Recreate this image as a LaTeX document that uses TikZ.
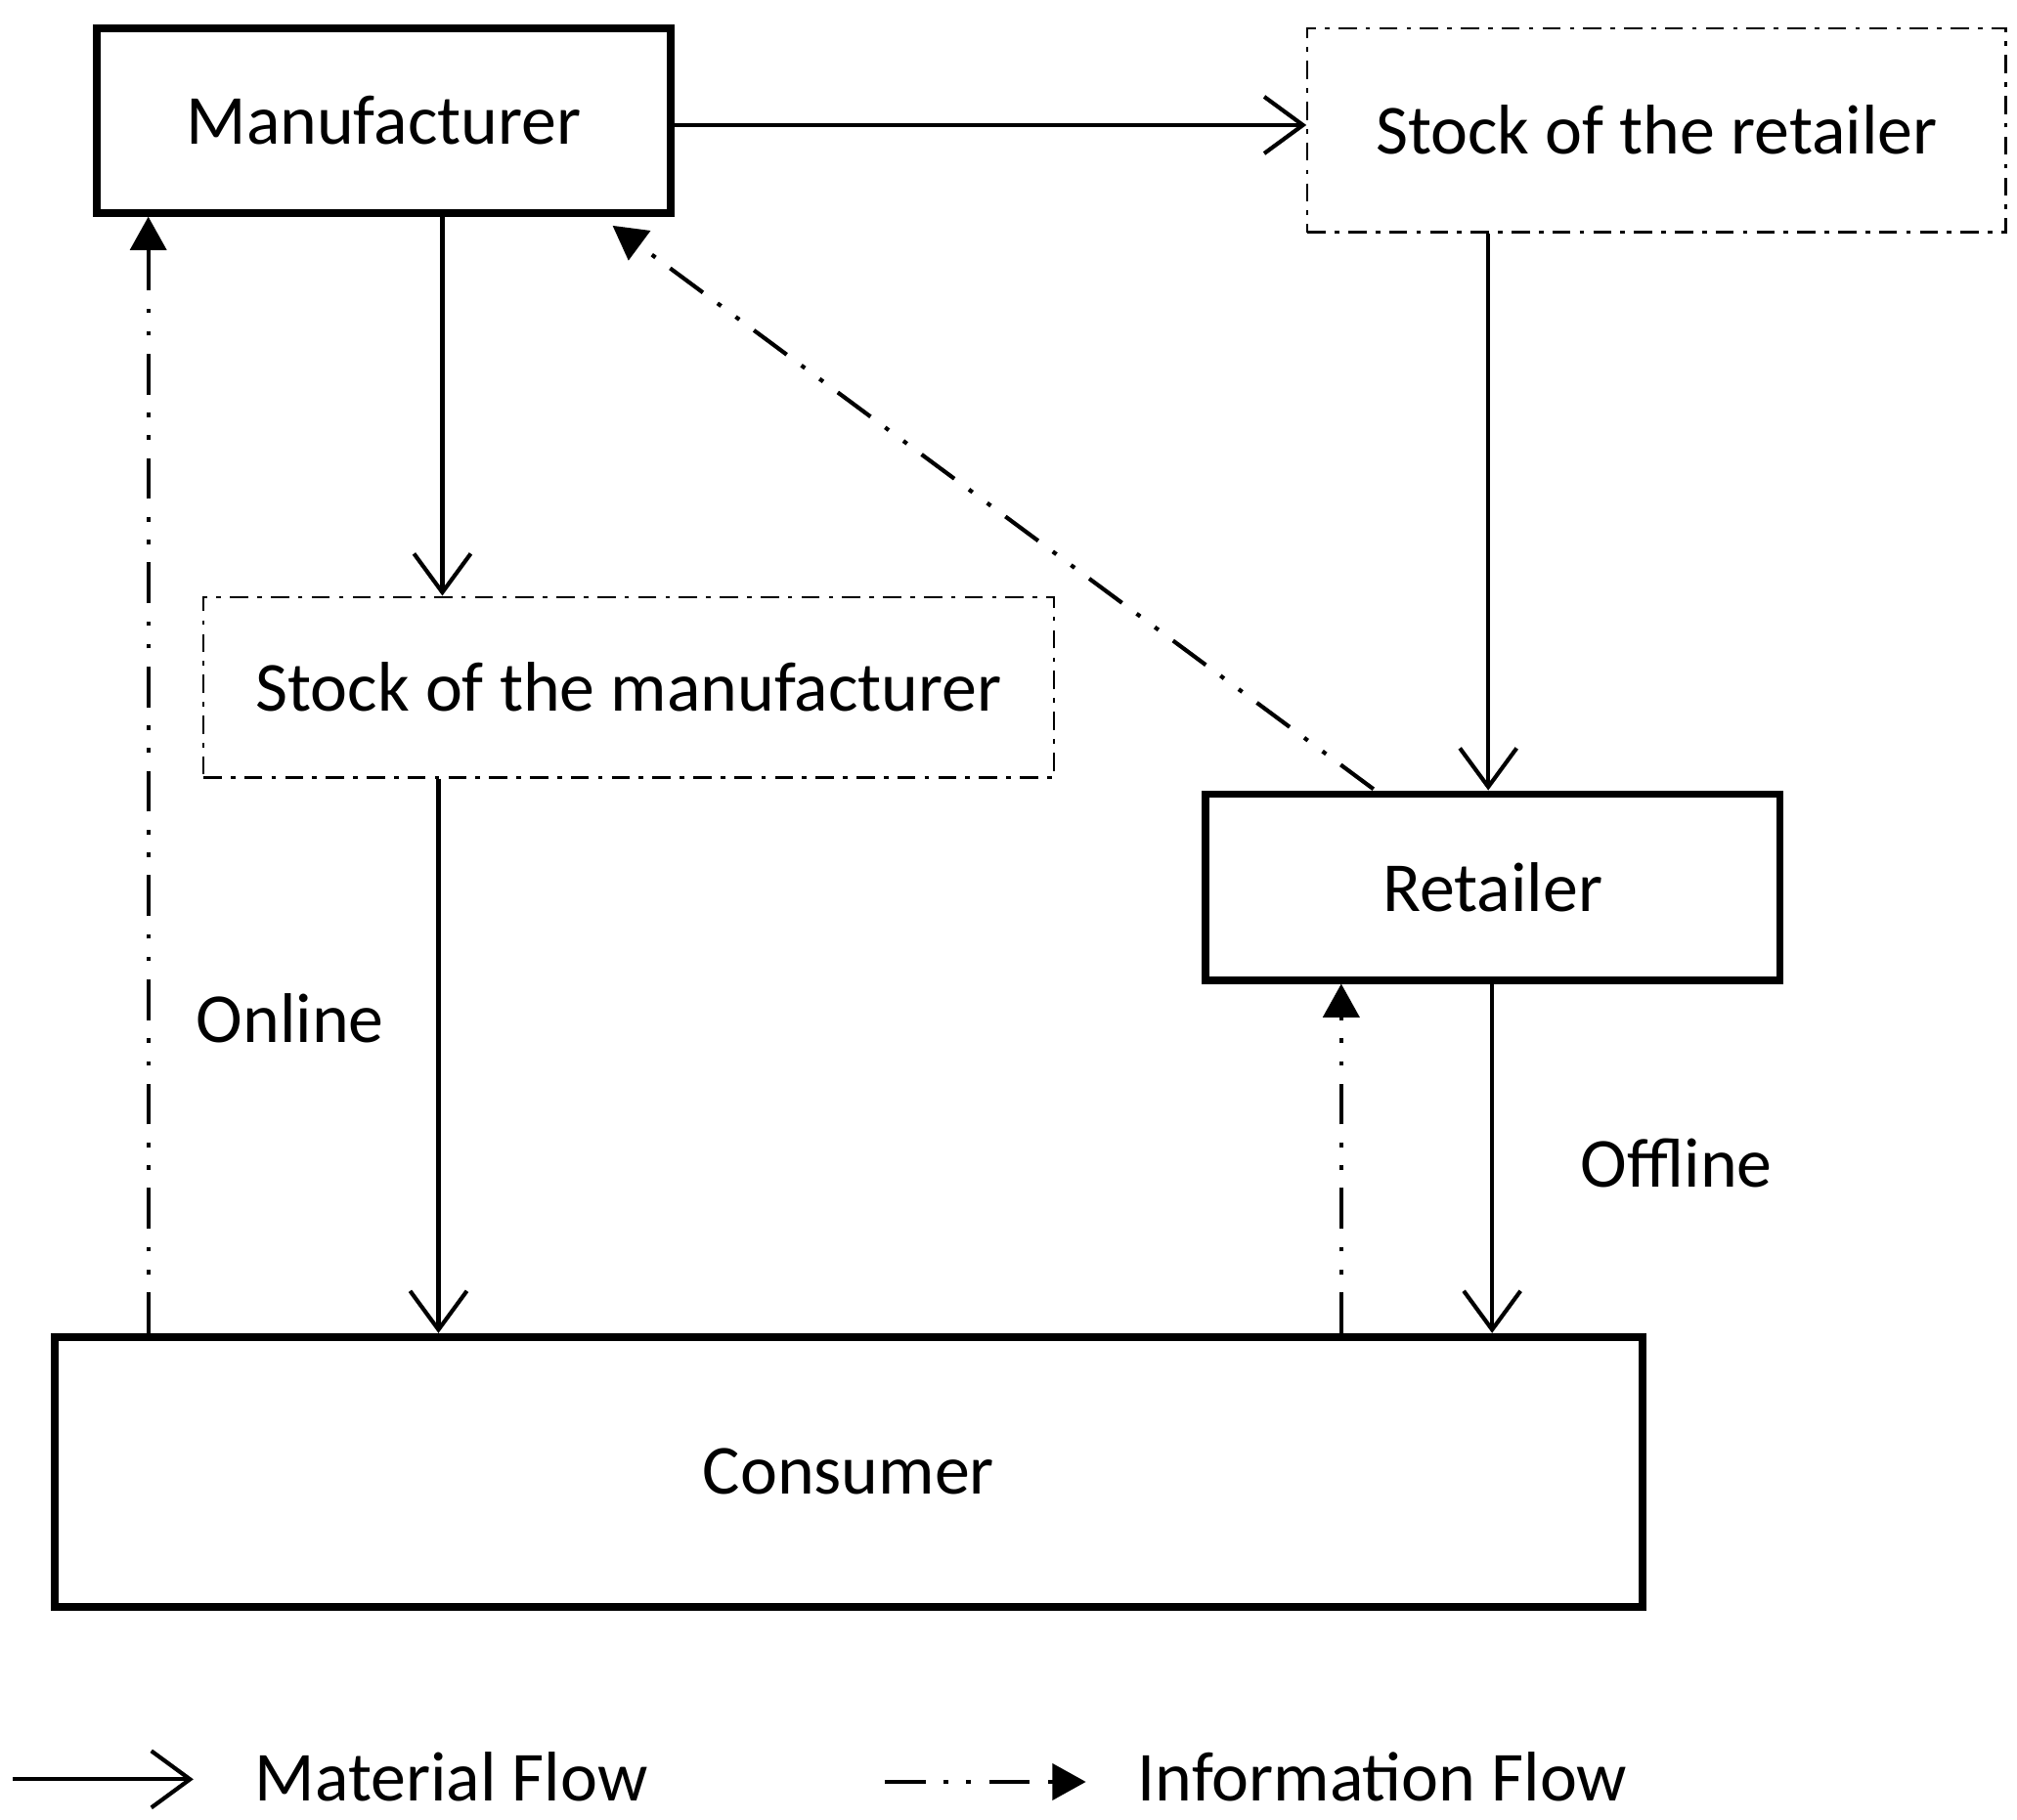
\documentclass[tikz,border=0pt]{standalone}
\usepackage{fontspec}
\setmainfont{Carlito}
\usetikzlibrary{arrows.meta}
\begin{document}
\begin{tikzpicture}[x=0.01cm,y=-0.01cm,
  font=\fontsize{15.5}{18}\selectfont,
  thick box/.style={draw,line width=1.7pt,inner sep=0},
  dd box/.style={draw,line width=0.5pt,inner sep=0,dash pattern=on 4pt off 2pt on 1pt off 2pt},
  mat/.style={line width=0.9pt,-{Straight Barb[length=3mm,width=4.4mm,line width=0.9pt]}},
  info/.style={line width=0.9pt,dash pattern=on 9pt off 4pt on 1pt off 4pt on 1pt off 4pt,-{Triangle[length=2.6mm,width=2.8mm]}}]
\useasboundingbox (0,0) rectangle (1564,1411);
\node[thick box,minimum width=4.45cm,minimum height=1.43cm] (man) at (297.5,93.5) {Manufacturer};
\node[dd box,minimum width=5.41cm,minimum height=1.58cm] (sr) at (1284.5,101) {Stock of the retailer};
\node[dd box,minimum width=6.59cm,minimum height=1.40cm] (sm) at (487.5,533) {Stock of the manufacturer};
\node[thick box,minimum width=4.45cm,minimum height=1.44cm] (ret) at (1157.5,688) {Retailer};
\node[thick box,minimum width=12.30cm,minimum height=2.09cm] (con) at (658,1141.5) {Consumer};
\node (online) at (225,790) {Online};
\node (offline) at (1300,902) {Offline};
\draw[mat] (man.east |- 0,97) -- (sr.west |- 0,97);
\draw[mat] (man.south -| 343,0) -- (sm.north -| 343,0);
\draw[mat] (sr.south -| 1154,0) -- (ret.north -| 1154,0);
\draw[mat] (sm.south -| 340,0) -- (con.north -| 340,0);
\draw[mat] (ret.south -| 1157,0) -- (con.north -| 1157,0);
\draw[info] (con.north -| 115,0) -- (man.south -| 115,0);
\coordinate (rtl) at (1065,612);
\coordinate (mbr) at (475,175);
\draw[info] (rtl) -- (mbr);
\draw[info] (con.north -| 1040,0) -- (ret.south -| 1040,0);
\coordinate (l1a) at (10,1380); \coordinate (l1b) at (150,1380);
\draw[mat] (l1a) -- (l1b);
\node (lmat) at (350,1378) {Material Flow};
\coordinate (l2a) at (686,1382); \coordinate (l2b) at (842,1382);
\draw[info] (l2a) -- (l2b);
\node (linfo) at (1072,1378) {Information Flow};
\end{tikzpicture}
\end{document}
